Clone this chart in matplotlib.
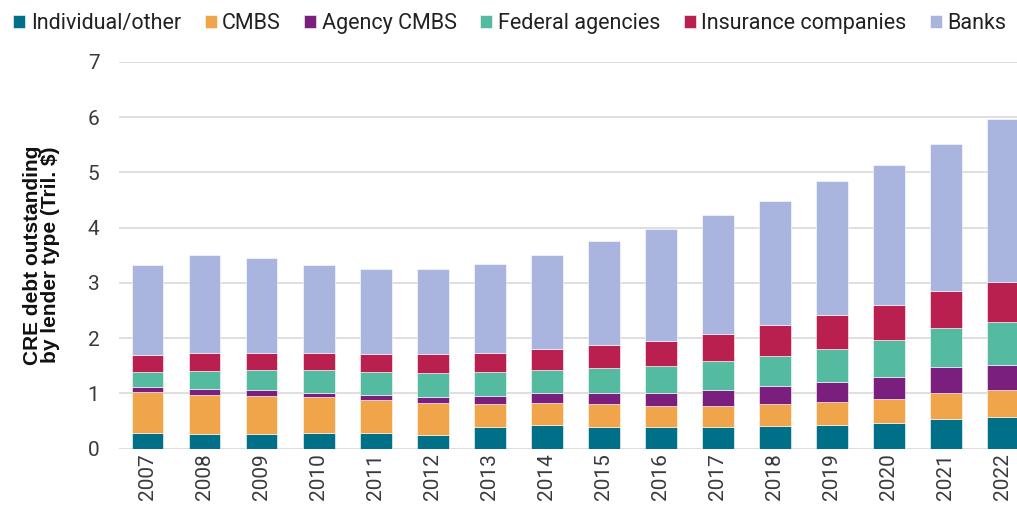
import matplotlib.pyplot as plt
import numpy as np

plt.rcParams["font.family"] = ["Roboto", "DejaVu Sans"]

years = [str(y) for y in range(2007, 2023)]
series = ["Individual/other", "CMBS", "Agency CMBS", "Federal agencies",
          "Insurance companies", "Banks"]
colors = ["#006f88", "#f0a54a", "#7a1f7d", "#55bba0", "#b91f4f", "#a9b5de"]

# segment sizes, trillions of dollars
individual = [0.29, 0.27, 0.27, 0.29, 0.28, 0.25, 0.40, 0.42,
              0.40, 0.39, 0.40, 0.41, 0.43, 0.46, 0.53, 0.58]
cmbs       = [0.74, 0.71, 0.68, 0.65, 0.60, 0.57, 0.41, 0.40,
              0.41, 0.38, 0.37, 0.39, 0.41, 0.43, 0.48, 0.48]
agency     = [0.09, 0.10, 0.11, 0.07, 0.09, 0.12, 0.15, 0.18,
              0.20, 0.24, 0.30, 0.34, 0.37, 0.41, 0.46, 0.45]
federal    = [0.27, 0.33, 0.36, 0.41, 0.42, 0.43, 0.42, 0.42,
              0.45, 0.48, 0.51, 0.54, 0.60, 0.67, 0.71, 0.79]
insurance  = [0.31, 0.33, 0.32, 0.31, 0.33, 0.34, 0.36, 0.38,
              0.42, 0.46, 0.50, 0.55, 0.60, 0.63, 0.67, 0.71]
banks      = [1.62, 1.76, 1.71, 1.60, 1.53, 1.54, 1.61, 1.71,
              1.87, 2.03, 2.15, 2.25, 2.44, 2.54, 2.67, 2.96]

fig = plt.figure(figsize=(10.17, 5.11), dpi=100)
ax = fig.add_axes([0.117, 0.122, 0.883, 0.757])

x = np.arange(len(years))
bottom = np.zeros(len(years))
for name, vals, col in zip(series, [individual, cmbs, agency, federal, insurance, banks], colors):
    ax.bar(x, vals, 0.56, bottom=bottom, color=col, label=name,
           edgecolor="white", linewidth=0.4)
    bottom += np.array(vals)

ax.set_ylim(0, 7)
ax.set_xlim(-0.5, 15.25)
ax.set_yticks(range(8))
ax.set_xticks(x)
ax.set_xticklabels(years, rotation=90)
ax.tick_params(length=0, labelsize=15, labelcolor="#3a3a3a")
ax.tick_params(axis="y", pad=14)
ax.grid(axis="y", color="#dcdcdc", linewidth=1.3)
ax.set_axisbelow(True)
for s in ax.spines.values():
    s.set_visible(False)

ax.set_ylabel("CRE debt outstanding\nby lender type (Tril. $)", fontsize=15,
              fontweight="bold", color="#111111", family="Liberation Sans",
              linespacing=0.9)
ax.yaxis.set_label_coords(-0.066, 0.5)

fig.legend(loc="upper left", bbox_to_anchor=(-0.006, 1.012), ncol=6, frameon=False,
           fontsize=15.5, handlelength=0.56, handleheight=0.56, handletextpad=0.25,
           columnspacing=1.1, labelcolor="#222222")

fig.savefig("out.png", dpi=100)
